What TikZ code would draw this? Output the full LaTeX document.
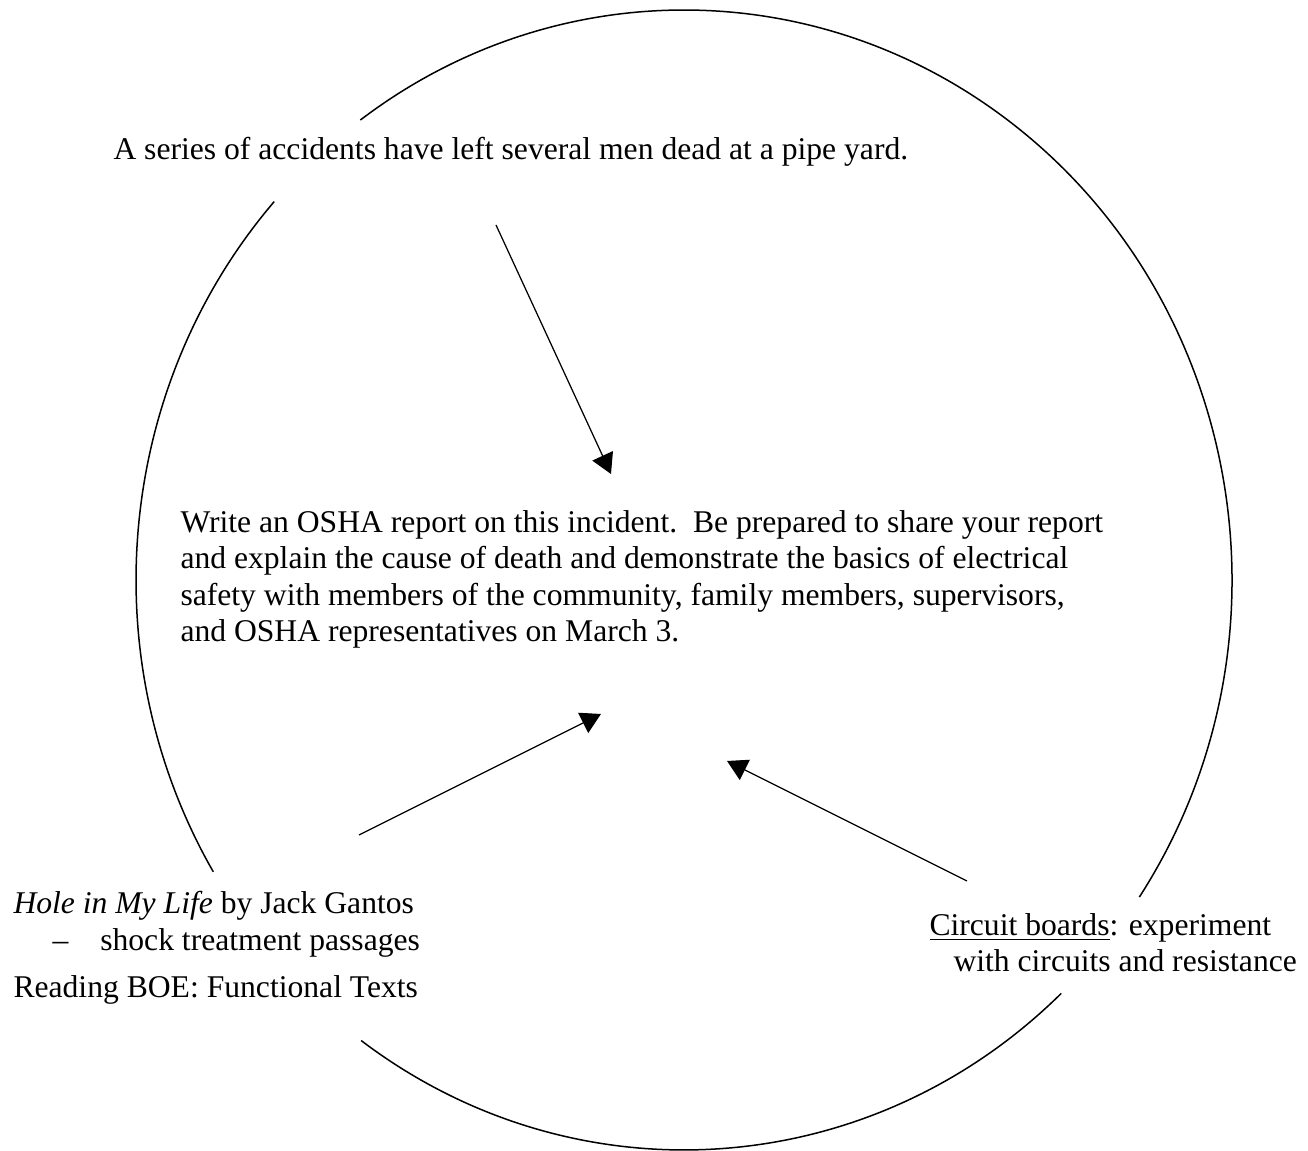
\documentclass[tikz,border=0pt]{standalone}
\usepackage{fontspec}
\setmainfont{Liberation Serif}
\usetikzlibrary{arrows.meta}

\begin{document}
\begin{tikzpicture}[x=0.4pt,y=0.4pt,
            txt/.style={inner sep=0,anchor=base west,align=left,font=\fontsize{12.65}{14.6}\selectfont},
            ring/.style={draw,line width=.6pt},
            arr/.style={draw,line width=.5pt,-{Triangle[width=9pt,length=8pt]}}
          ]
          \useasboundingbox (0,0) rectangle (1308,1151);
          \coordinate (c) at (684,571);

          %broken circle
          \path[ring] (c) ++(-33.8:548 and 570) arc[start angle=-33.8,end angle=126.2,x radius=548,y radius=570];
          \path[ring] (c) ++(138.4:548 and 570) arc[start angle=138.4,end angle=210.8,x radius=548,y radius=570];
          \path[ring] (c) ++(233.9:548 and 570) arc[start angle=233.9,end angle=313.5,x radius=548,y radius=570];

          %labels (base = last line)
          \node[txt] (incident) at (113,991) {A series of accidents have left several men dead at a pipe yard.};
          \node[txt] (report) at (180,509) {Write an OSHA report on this incident.\ \ Be prepared to share your report\\
            and explain the cause of death and demonstrate the basics of electrical\\
            safety with members of the community, family members, supervisors,\\
            and OSHA representatives on March 3.};
          \node[txt] (novel) at (13,153) {\textit{Hole in My Life} by Jack Gantos\\
            \hspace*{15.6pt}–\hspace*{12.8pt}shock treatment passages\\[4.4pt]
            Reading BOE: Functional Texts};
          \node[txt] (circuits) at (929,179) {\underline{Circuit boards}: experiment\\
            \hspace*{9.6pt}with circuits and resistance};

          %arrows
          \coordinate (a1) at (496,926);
          \coordinate (t1) at (611,677);
          \coordinate (a2) at (359,316);
          \coordinate (t2) at (601,437);
          \coordinate (a3) at (967,270);
          \coordinate (t3) at (727,390);
          \path
          (a1) edge[arr] (t1)
          (a2) edge[arr] (t2)
          (a3) edge[arr] (t3)
          ;
      \end{tikzpicture}
\end{document}
